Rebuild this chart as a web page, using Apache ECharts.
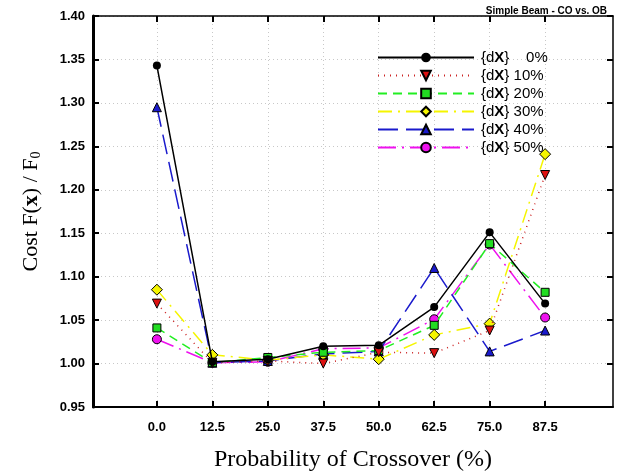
<!DOCTYPE html>
<html><head><meta charset="utf-8">
<script src="https://cdn.jsdelivr.net/npm/echarts@6/dist/echarts.min.js"></script>
<style>html,body{margin:0;padding:0;background:#fff}#c{width:618px;height:473px}</style>
</head><body><div id="c"></div>
<script>
const xTicks = [0, 12.5, 25, 37.5, 50, 62.5, 75, 87.5];
const seriesNames = ['0%', '10%', '20%', '30%', '40%', '50%'];
const dx0  = [1.343, 1.002, 1.005, 1.020, 1.021, 1.065, 1.151, 1.069];
const dx10 = [1.069, 1.001, 1.003, 1.000, 1.013, 1.012, 1.038, 1.217];
const dx20 = [1.041, 1.001, 1.007, 1.013, 1.015, 1.044, 1.138, 1.082];
const dx30 = [1.085, 1.010, 1.004, 1.010, 1.005, 1.033, 1.046, 1.241];
const dx40 = [1.295, 1.001, 1.003, 1.011, 1.014, 1.110, 1.014, 1.038];
const dx50 = [1.028, 1.001, 1.002, 1.017, 1.018, 1.051, 1.137, 1.053];
const allData = [dx0, dx10, dx20, dx30, dx40, dx50];

const styles = [
  {color:'#000000', fill:'#000000', type:'solid', symbol:'circle', size:8},
  {color:'#cc2222', fill:'#dd1111', type:[1,5], symbol:'triangle', rotate:180, size:9},
  {color:'#22ee22', fill:'#22dd22', type:[9,6], symbol:'rect', size:8},
  {color:'#f5f500', fill:'#f5f500', type:[14,6,2,6], symbol:'diamond', size:11},
  {color:'#1a1acc', fill:'#1a1acc', type:[20,8], symbol:'triangle', size:9},
  {color:'#ee11ee', fill:'#ee11ee', type:[18,6,2,6], symbol:'circle', size:9}
];

const chart = echarts.init(document.getElementById('c'), null, {renderer:'canvas'});
const series = allData.map((d, i) => {
  const s = styles[i];
  return {
    name: seriesNames[i], type: 'line',
    data: d.map((v, j) => [xTicks[j], v]),
    symbol: s.symbol, symbolSize: s.size, symbolRotate: s.rotate || 0,
    lineStyle: {color: s.color, width: 1.5, type: s.type},
    itemStyle: {color: s.fill, borderColor: '#000', borderWidth: i === 0 ? 0 : 1},
    z: 10 - i
  };
});

const labelFont = {fontFamily:'Liberation Sans, Arial', fontWeight:'bold', fontSize:13, color:'#000'};
chart.setOption({
  animation: false,
  backgroundColor: '#fff',
  title: {text: 'Simple Beam - CO vs. OB', right: 6, top: 1,
    textStyle: {fontFamily:'Liberation Sans, Arial', fontWeight:'bold', fontSize:10, color:'#000'}},
  legend: {
    orient: 'vertical', left: 372, top: 45, itemWidth: 96, itemHeight: 12, itemGap: 3,
    data: seriesNames,
    formatter: n => '{n|{d}{b|X}}' + (n === '0%' ? '    0%' : ' ' + n),
    textStyle: {fontFamily:'Liberation Sans, Arial', fontSize:15, color:'#000', padding:[0,0,0,2],
      rich: {n:{fontFamily:'Liberation Sans, Arial', fontSize:15}, b:{fontFamily:'Liberation Sans, Arial', fontSize:15, fontWeight:'bold'}}}
  },
  grid: {left: 93, right: 5, top: 16, bottom: 66, containLabel: false, outerBoundsMode: 'none'},
  xAxis: [{
    type: 'value', min: -14.4, max: 102.8, position: 'bottom',
    axisLine: {onZero:false, lineStyle:{color:'#000', width:2}},
    axisTick: {inside:true, length:6, lineStyle:{color:'#000', width:2}, customValues: xTicks},
    axisLabel: Object.assign({margin: 14, customValues: xTicks, formatter: v => v.toFixed(1)}, labelFont),
    splitLine: {show:true, lineStyle:{color:'#c8c8c8', type:[1,3], width:1}},
    name: 'Probability of Crossover (%)', nameLocation: 'middle', nameGap: 41,
    nameTextStyle: {fontFamily:'Liberation Serif, Times New Roman', fontSize:24, color:'#000'}
  }, {
    type: 'value', min: -14.4, max: 102.8, position: 'top',
    axisLine: {onZero:false, lineStyle:{color:'#000', width:1.5}},
    axisTick: {inside:true, length:6, lineStyle:{color:'#000', width:2}, customValues: xTicks},
    axisLabel: {show:false, customValues: xTicks},
    splitLine: {show:false}
  }],
  yAxis: [{
    type: 'value', min: 0.95, max: 1.40, interval: 0.05, position: 'left',
    axisLine: {show:true, onZero:false, lineStyle:{color:'#000', width:3}},
    axisTick: {show:true, inside:true, length:6, lineStyle:{color:'#000', width:2}},
    axisLabel: Object.assign({margin: 8, formatter: v => v.toFixed(2)}, labelFont),
    splitLine: {show:true, lineStyle:{color:'#c8c8c8', type:[1,3], width:1}},
    name: '{a|Cost F(}{b|x}{a|) / F}{s|0}', nameLocation: 'middle', nameGap: 50, nameRotate: 90,
    nameTextStyle: {fontFamily:'Liberation Serif, Times New Roman', fontSize:22, color:'#000',
      rich: {a:{fontFamily:'Liberation Serif, Times New Roman', fontSize:22},
             b:{fontFamily:'Liberation Serif, Times New Roman', fontSize:22, fontWeight:'bold'},
             s:{fontFamily:'Liberation Serif, Times New Roman', fontSize:14, padding:[10,0,0,0]}}}
  }, {
    type: 'value', min: 0.95, max: 1.40, interval: 0.05, position: 'right',
    axisLine: {show:true, onZero:false, lineStyle:{color:'#000', width:1.5}},
    axisTick: {show:true, inside:true, length:6, lineStyle:{color:'#000', width:2}},
    axisLabel: {show:false}, splitLine: {show:false}
  }],
  series: series
});
</script></body></html>
